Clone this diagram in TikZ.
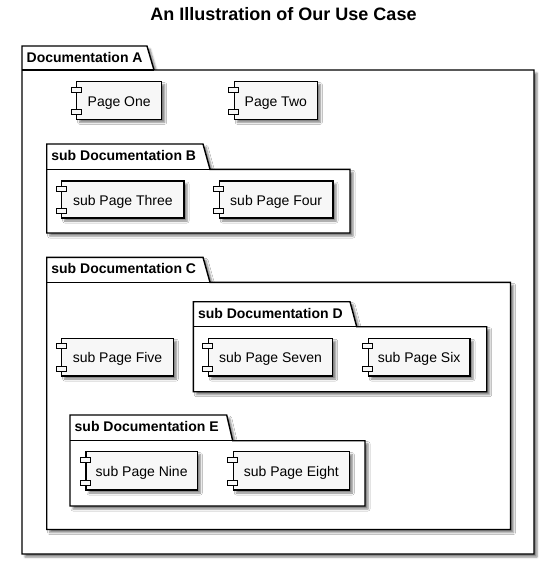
\documentclass[tikz,border=0pt]{standalone}
\usepackage{fontspec}
\setmainfont{Liberation Sans}
\usetikzlibrary{calc,shadows.blur}
\tikzset{
  shad/.style={blur shadow={shadow xshift=3pt, shadow yshift=-3pt, shadow blur radius=2pt, shadow opacity=50}},
  pkgbox/.style={draw=black, line width=1.4pt, fill=white, shad},
  pkglabel/.style={anchor=base west, inner sep=0pt, font=\fontsize{14}{16}\selectfont\bfseries},
  comp/.style={draw=black, line width=1.2pt, fill=black!3, shad, inner sep=0pt,
    text height=13pt, text depth=2pt, font=\fontsize{14}{16}\selectfont},
  port/.style={draw=black, line width=1pt, fill=black!3},
  titlestyle/.style={inner sep=0pt, font=\fontsize{18}{20}\selectfont\bfseries}
}
% #1 name, #2 L, #3 tabTop, #4 tR1, #5 tR2, #6 boxTop, #7 R, #8 bottom, #9 label
\newcommand\mypkg[9]{%
  \draw[pkgbox] (#2,#8) -- (#2,#3) -- (#4,#3) -- (#5,#6) -- (#7,#6) -- (#7,#8) -- cycle;
  \draw[line width=1.4pt] (#2,#6) -- (#5,#6);
  \node[pkglabel] (#1) at ({#2+4.5},{#3+16.5}) {#9};
}
% #1 name, #2 left, #3 top, #4 right, #5 bottom, #6 text
\newcommand\mycomp[6]{%
  \node[comp, minimum width={(#4-#2)*1pt}, minimum height={(#5-#3)*1pt}] (#1) at ({(#2+#4)/2},{(#3+#5)/2}) {#6};
  \draw[port] ($(#1.north west)+(-5,6)$) rectangle ($(#1.north west)+(5,11)$);
  \draw[port] ($(#1.south west)+(-5,-10)$) rectangle ($(#1.south west)+(5,-5)$);
}
\begin{document}
\begin{tikzpicture}[x=1pt,y=-1pt]
\useasboundingbox (0,0) rectangle (555,565);
\node[titlestyle, anchor=base] (title) at (283.5,20) {An Illustration of Our Use Case};
\mypkg{pkgA}{22}{46}{147}{154}{70}{534}{554}{Documentation A}
\mycomp{one}{76.7}{81.7}{161.7}{119.3}{Page One}
\mycomp{two}{234.3}{81.7}{317.3}{119.3}{Page Two}
\mypkg{pkgB}{46.7}{144}{203}{210}{169.3}{350}{233}{sub Documentation B}
\mycomp{three}{61.7}{181}{184}{218}{sub Page Three}
\mycomp{four}{219.3}{181}{333}{218}{sub Page Four}
\mypkg{pkgC}{46.7}{257.3}{203}{210}{282.3}{510.5}{529.5}{sub Documentation C}
\mycomp{five}{61.7}{338.3}{173.3}{376}{sub Page Five}
\mypkg{pkgD}{193.3}{301.7}{350}{356.7}{326.7}{486.7}{391.7}{sub Documentation D}
\mycomp{seven}{208.3}{338.3}{332.7}{376}{sub Page Seven}
\mycomp{six}{368.3}{338.3}{470}{376}{sub Page Six}
\mypkg{pkgE}{70}{415}{226.7}{232.7}{440.7}{365}{506}{sub Documentation E}
\mycomp{nine}{86}{451.7}{197.3}{490}{sub Page Nine}
\mycomp{eight}{233.3}{451.7}{349.3}{490}{sub Page Eight}
\end{tikzpicture}
\end{document}
